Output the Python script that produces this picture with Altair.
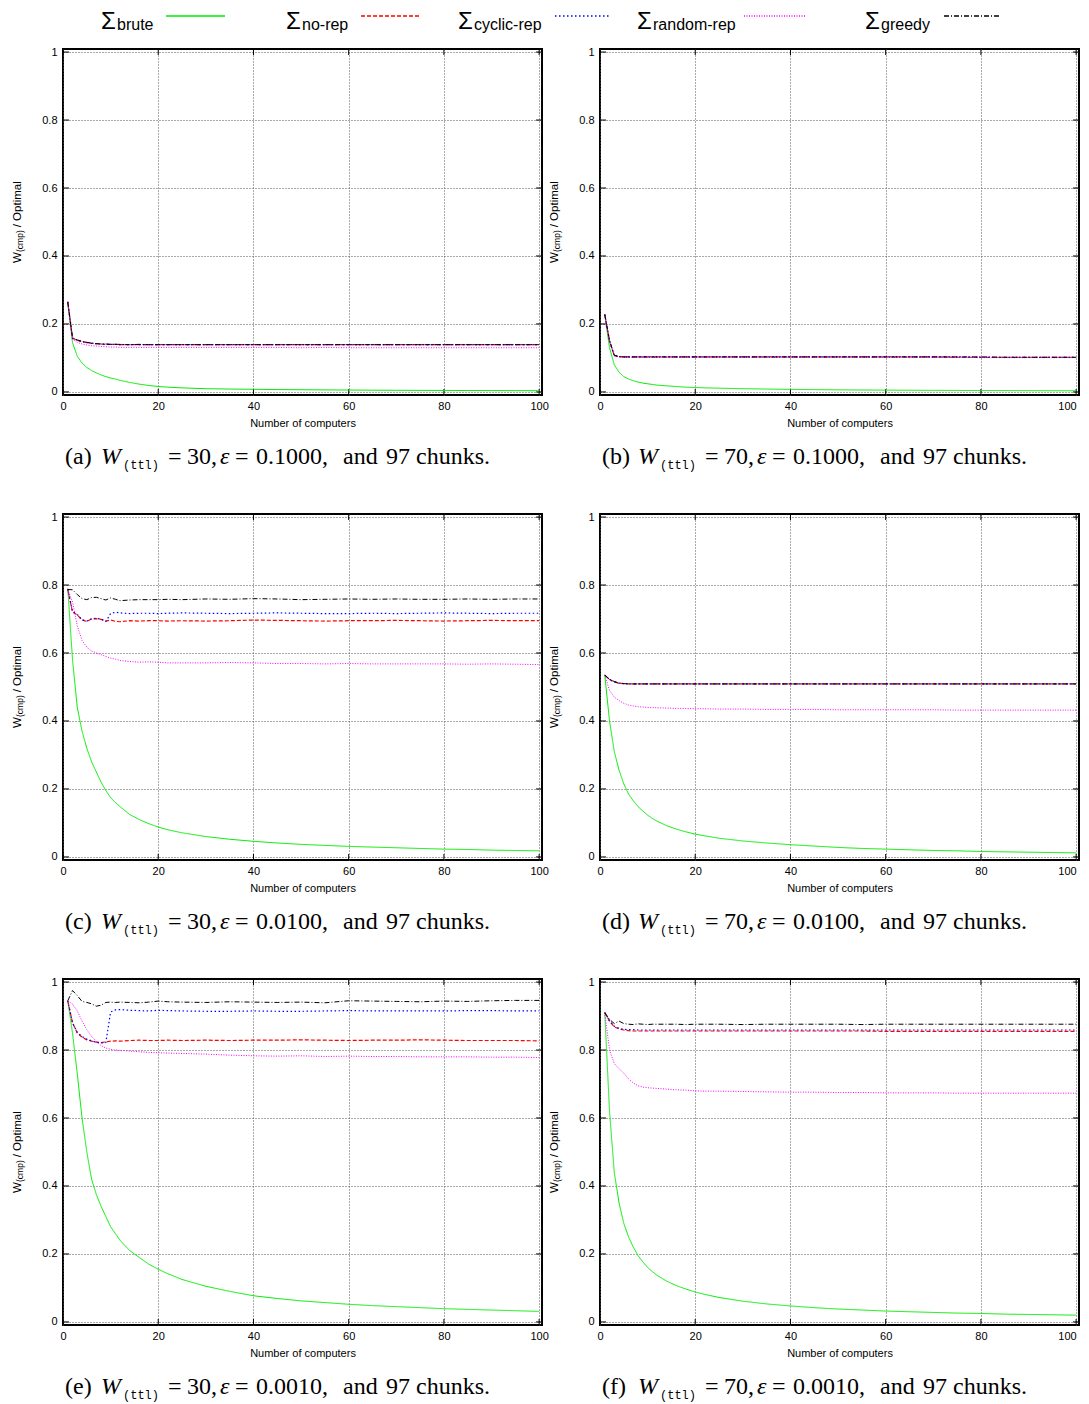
import altair as alt
import pandas as pd

# ---------------- data ----------------
X_POINTS = [1, 2, 3, 4, 5, 6, 7, 8, 9, 10, 11, 12, 14, 16, 18, 20, 22, 25, 30, 35,
            40, 45, 50, 55, 60, 65, 70, 75, 80, 85, 90, 95, 100]

SERIES = ["brute", "no-rep", "cyclic-rep", "random-rep", "greedy"]

# (a) W=30, eps=0.1000
A_BRUTE = [.26, .145, .105, .085, .072, .063, .056, .05, .045, .041, .038, .034,
           .028, .023, .019, .016, .014, .012, .0095, .0085,
           .0078, .007, .0065, .006, .0056, .0052, .0049, .0046, .0044, .0042, .004, .0038, .0036]
A_NOREP = [.265, .158, .152, .148, .145, .143, .142, .141, .140, .140, .140, .139,
           .139, .139, .139, .139, .139, .139, .139, .139,
           .139, .139, .139, .139, .139, .139, .139, .139, .139, .139, .139, .139, .139]
A_CYCLIC = [.265, .158, .152, .148, .145, .143, .142, .141, .140, .140, .140, .139,
            .139, .139, .139, .139, .139, .139, .139, .139,
            .139, .139, .139, .139, .139, .139, .139, .139, .139, .139, .139, .139, .139]
A_RANDOM = [.265, .155, .146, .141, .138, .136, .135, .134, .133, .132, .132, .131,
            .131, .131, .131, .131, .131, .131, .131, .131,
            .131, .131, .130, .131, .130, .130, .130, .130, .130, .130, .130, .130, .130]
A_GREEDY = [.265, .160, .153, .149, .146, .144, .142, .141, .141, .140, .140, .140,
            .139, .140, .139, .139, .139, .139, .139, .139,
            .139, .139, .139, .139, .139, .139, .139, .139, .139, .139, .139, .139, .139]

# (b) W=70, eps=0.1000
B_BRUTE = [.225, .13, .08, .058, .045, .038, .033, .029, .026, .024, .022, .02,
           .018, .016, .014, .013, .012, .011, .0095, .0085,
           .0075, .0068, .0062, .0057, .0053, .005, .0047, .0044, .0042, .004, .0038, .0036, .0035]
B_NOREP = [.228, .150, .107, .104, .103, .103, .103, .103, .103, .103, .103, .103,
           .103, .103, .103, .103, .103, .103, .103, .103,
           .103, .103, .103, .103, .103, .103, .103, .102, .102, .102, .102, .102, .102]
B_CYCLIC = [.228, .150, .107, .104, .103, .103, .103, .103, .103, .103, .103, .103,
            .103, .103, .103, .103, .103, .103, .103, .103,
            .103, .103, .103, .103, .103, .103, .103, .103, .102, .102, .102, .102, .102]
B_RANDOM = [.228, .148, .106, .103, .102, .102, .102, .102, .102, .102, .102, .102,
            .102, .102, .102, .102, .102, .102, .102, .102,
            .102, .102, .102, .102, .102, .102, .102, .102, .101, .101, .101, .101, .101]
B_GREEDY = [.228, .152, .108, .104, .103, .103, .103, .103, .103, .103, .103, .103,
            .103, .103, .103, .103, .103, .103, .103, .103,
            .103, .103, .103, .103, .103, .103, .103, .103, .103, .102, .102, .102, .102]

# (c) W=30, eps=0.0100
C_BRUTE = [.79, .58, .44, .37, .32, .28, .25, .22, .195, .175, .16, .148,
           .125, .11, .098, .088, .08, .071, .06, .052,
           .046, .041, .037, .034, .031, .029, .027, .025, .023, .022, .02, .019, .018]
C_NOREP = [.787, .72, .712, .697, .693, .70, .701, .699, .694, .697, .693, .692,
           .695, .694, .695, .695, .694, .695, .694, .695,
           .697, .696, .695, .694, .695, .695, .696, .695, .694, .695, .696, .695, .695]
C_CYCLIC = [.787, .722, .713, .698, .694, .701, .702, .70, .693, .716, .72, .718,
            .716, .717, .717, .716, .717, .718, .717, .716,
            .717, .718, .717, .716, .716, .717, .716, .717, .718, .717, .716, .717, .717]
C_RANDOM = [.787, .75, .68, .637, .617, .606, .60, .595, .59, .585, .582, .578,
            .575, .573, .574, .573, .571, .571, .571, .572,
            .571, .569, .569, .568, .569, .568, .568, .568, .568, .567, .568, .567, .566]
C_GREEDY = [.787, .786, .772, .76, .757, .763, .764, .76, .756, .762, .758, .754,
            .756, .757, .757, .757, .758, .757, .759, .758,
            .76, .759, .757, .758, .759, .758, .759, .758, .758, .759, .758, .759, .759]

# (d) W=70, eps=0.0100
D_BRUTE = [.535, .40, .31, .255, .215, .185, .165, .148, .135, .123, .113, .105,
           .092, .082, .074, .067, .062, .055, .047, .041,
           .036, .032, .028, .025, .023, .021, .019, .018, .016, .015, .014, .013, .012]
D_NOREP = [.535, .522, .515, .511, .510, .509, .509, .509, .509, .509, .509, .509,
           .509, .509, .509, .509, .509, .509, .509, .509,
           .509, .509, .509, .509, .509, .509, .509, .509, .509, .509, .509, .509, .509]
D_CYCLIC = [.535, .522, .515, .511, .510, .509, .509, .509, .509, .509, .509, .509,
            .509, .509, .509, .509, .509, .509, .509, .509,
            .509, .509, .509, .509, .509, .509, .509, .509, .509, .509, .509, .509, .509]
D_RANDOM = [.535, .49, .47, .46, .452, .447, .444, .442, .441, .44, .439, .439,
            .438, .437, .437, .436, .436, .435, .435, .434,
            .434, .434, .433, .433, .433, .433, .433, .432, .432, .432, .432, .432, .432]
D_GREEDY = [.535, .523, .516, .512, .510, .509, .509, .509, .509, .509, .509, .509,
            .509, .509, .509, .509, .509, .509, .509, .509,
            .509, .509, .509, .509, .509, .509, .509, .509, .509, .509, .509, .509, .509]

# (e) W=30, eps=0.0010
E_BRUTE = [.945, .85, .73, .60, .50, .42, .375, .34, .31, .28, .26, .24,
           .21, .19, .17, .155, .142, .125, .105, .09,
           .077, .069, .062, .057, .052, .048, .045, .042, .039, .037, .035, .033, .031]
E_NOREP = [.945, .88, .85, .838, .83, .826, .823, .822, .824, .826, .827, .826,
           .828, .829, .828, .828, .829, .828, .829, .828,
           .829, .829, .83, .829, .828, .829, .829, .83, .829, .828, .828, .828, .827]
E_CYCLIC = [.945, .88, .852, .84, .832, .827, .823, .821, .822, .912, .918, .919,
            .917, .916, .915, .917, .916, .915, .914, .914,
            .915, .914, .914, .915, .916, .915, .915, .915, .915, .916, .916, .915, .915]
E_RANDOM = [.945, .935, .915, .885, .86, .84, .825, .813, .806, .802, .80, .799,
            .797, .795, .793, .792, .791, .79, .788, .785,
            .783, .782, .783, .781, .782, .781, .781, .78, .78, .78, .779, .779, .778]
E_GREEDY = [.945, .975, .96, .943, .94, .936, .929, .932, .94, .941, .94, .941,
            .94, .939, .941, .944, .942, .941, .94, .942,
            .941, .94, .941, .939, .945, .944, .943, .942, .944, .943, .945, .946, .946]

# (f) W=70, eps=0.0010
F_BRUTE = [.91, .62, .44, .35, .29, .25, .22, .195, .177, .16, .148, .137,
           .12, .107, .097, .088, .081, .072, .061, .053,
           .047, .042, .038, .035, .032, .03, .028, .026, .025, .023, .022, .021, .02]
F_NOREP = [.91, .885, .868, .862, .859, .857, .856, .856, .856, .856, .856, .856,
           .856, .856, .856, .856, .856, .856, .856, .856,
           .856, .856, .856, .856, .855, .855, .855, .855, .855, .855, .855, .855, .855]
F_CYCLIC = [.91, .886, .87, .864, .861, .86, .86, .859, .859, .859, .859, .859,
            .859, .859, .859, .859, .859, .859, .859, .859,
            .859, .859, .859, .859, .859, .859, .859, .859, .859, .859, .859, .859, .859]
F_RANDOM = [.91, .80, .76, .745, .732, .715, .703, .695, .691, .689, .688, .687,
            .685, .683, .682, .68, .679, .679, .678, .677,
            .676, .676, .675, .675, .674, .674, .674, .673, .673, .673, .673, .673, .673]
F_GREEDY = [.91, .89, .878, .885, .878, .876, .875, .877, .876, .875, .876, .876,
            .876, .876, .875, .876, .876, .876, .875, .876,
            .876, .876, .876, .875, .876, .876, .876, .876, .876, .876, .876, .876, .876]

PANELS = [
    ("a", "30", "0.1000", [A_BRUTE, A_NOREP, A_CYCLIC, A_RANDOM, A_GREEDY]),
    ("b", "70", "0.1000", [B_BRUTE, B_NOREP, B_CYCLIC, B_RANDOM, B_GREEDY]),
    ("c", "30", "0.0100", [C_BRUTE, C_NOREP, C_CYCLIC, C_RANDOM, C_GREEDY]),
    ("d", "70", "0.0100", [D_BRUTE, D_NOREP, D_CYCLIC, D_RANDOM, D_GREEDY]),
    ("e", "30", "0.0010", [E_BRUTE, E_NOREP, E_CYCLIC, E_RANDOM, E_GREEDY]),
    ("f", "70", "0.0010", [F_BRUTE, F_NOREP, F_CYCLIC, F_RANDOM, F_GREEDY]),
]

X_TICKS = [0, 20, 40, 60, 80, 100]
Y_TICKS = [0, 0.2, 0.4, 0.6, 0.8, 1]

# ---------------- styling ----------------
W, H = 479, 346
COLORS = ["#00ee00", "#ff0000", "#0000ff", "#ff00ff", "#000000"]
DASHES = [[1, 0], [4, 2], [1.5, 2.5], [1, 1.5], [5, 2, 1, 2]]
WIDTHS = [1, 1.2, 1.2, 1, 1]
SANS = "Liberation Sans"
SERIF = "Liberation Serif"
MONO = "Liberation Mono"
GRID = "#555555"

XS = alt.Scale(domain=[0, 100.6], nice=False, zero=False)
YS = alt.Scale(domain=[-0.009, 1.009], nice=False, zero=False)


def x_axis(right_col):
    kw = {}
    if right_col:
        kw["labelAlign"] = {"condition": {"test": "datum.value == 100", "value": "right"},
                            "value": "center"}
    return alt.Axis(values=X_TICKS, grid=True, gridDash=[1, 2], gridColor=GRID, gridWidth=1,
                    ticks=False, tickSize=0, domain=False, labelFont=SANS, labelFontSize=11,
                    labelColor="black", labelPadding=5, labelFlush=False,
                    title="Number of computers", titleFont=SANS, titleFontSize=11,
                    titleFontWeight="normal", titleColor="black", titlePadding=6, **kw)


Y_AXIS = alt.Axis(values=Y_TICKS, grid=True, gridDash=[1, 2], gridColor=GRID, gridWidth=1,
                  ticks=False, tickSize=0, domain=False, labelFont=SANS, labelFontSize=11,
                  labelColor="black", labelPadding=6, labelFlush=False,
                  labelExpr="datum.value == 0 ? '0' : (datum.value == 1 ? '1' : format(datum.value, '.1f'))",
                  title=None)

ONE = pd.DataFrame({"k": [0]})


def txt(s, x, y, size, font=SANS, style="normal", angle=0, align="left"):
    return alt.Chart(ONE).mark_text(
        text=s, font=font, fontSize=size, fontStyle=style, angle=angle,
        align=align, baseline="alphabetic", color="black"
    ).encode(x=alt.value(x), y=alt.value(y))


def panel(letter, wttl, eps, series_vals, right_col=False, legend=False):
    XA = x_axis(right_col)
    layers = []
    tx = pd.DataFrame({"t": X_TICKS})
    ty = pd.DataFrame({"t": Y_TICKS})
    # inward ticks on all four sides
    layers.append(alt.Chart(ty).mark_rule(color="black", strokeWidth=1).encode(
        y=alt.Y("t:Q", scale=YS, axis=Y_AXIS), x=alt.value(0), x2=alt.value(6)))
    layers.append(alt.Chart(ty).mark_rule(color="black", strokeWidth=1).encode(
        y=alt.Y("t:Q", scale=YS, axis=Y_AXIS), x=alt.value(W - 6), x2=alt.value(W)))
    layers.append(alt.Chart(tx).mark_rule(color="black", strokeWidth=1).encode(
        x=alt.X("t:Q", scale=XS, axis=XA), y=alt.value(H), y2=alt.value(H - 6)))
    layers.append(alt.Chart(tx).mark_rule(color="black", strokeWidth=1).encode(
        x=alt.X("t:Q", scale=XS, axis=XA), y=alt.value(0), y2=alt.value(6)))
    # data lines
    for name, vals, col, dash, sw in zip(SERIES, series_vals, COLORS, DASHES, WIDTHS):
        df = pd.DataFrame({"n": X_POINTS, "v": vals})
        layers.append(alt.Chart(df).mark_line(color=col, strokeDash=dash, strokeWidth=sw).encode(
            x=alt.X("n:Q", scale=XS, axis=XA),
            y=alt.Y("v:Q", scale=YS, axis=Y_AXIS)))
    # y axis title: W_(cmp) / Optimal
    layers.append(txt("W", -42.5, 214, 11.5, angle=270))
    layers.append(txt("(cmp)", -40, 203, 8.5, angle=270))
    layers.append(txt("/ Optimal", -42.5, 178.3, 11.5, angle=270))
    # caption
    cy = 415
    fs = 24
    layers.append(txt("(" + letter + ")", 2, cy, fs, font=SERIF))
    layers.append(txt("W", 38, cy, fs, font=SERIF, style="italic"))
    layers.append(txt("(ttl)", 60, cy + 4.5, 12, font=MONO))
    layers.append(txt("=", 105, cy, fs, font=SERIF))
    layers.append(txt(wttl + ",", 124, cy, fs, font=SERIF))
    layers.append(txt("ε", 157, cy, fs, font=SERIF, style="italic"))
    layers.append(txt("=", 172, cy, fs, font=SERIF))
    layers.append(txt(eps + ",", 193, cy, fs, font=SERIF))
    layers.append(txt("and", 280, cy, fs, font=SERIF))
    layers.append(txt("97", 323, cy, fs, font=SERIF))
    layers.append(txt("chunks.", 353, cy, fs, font=SERIF))
    if legend:
        sig_x = [38, 223, 395, 574, 802]
        line_x = [(103, 162), (298, 356), (492, 547), (681, 742), (881, 938)]
        for name, sx, (l0, l1), col, dash, sw in zip(SERIES, sig_x, line_x, COLORS, DASHES, WIDTHS):
            layers.append(txt("Σ", sx, -20, 24))
            layers.append(txt(name, sx + 16, -19, 16))
            layers.append(alt.Chart(ONE).mark_rule(color=col, strokeDash=dash, strokeWidth=sw + 0.3).encode(
                x=alt.value(l0), x2=alt.value(l1), y=alt.value(-33)))
    return alt.layer(*layers).properties(width=W, height=H)


panels = [panel(l, w, e, s, right_col=(i % 2 == 1), legend=(l == "a"))
          for i, (l, w, e, s) in enumerate(PANELS)]

chart = alt.concat(
    *panels, columns=2, spacing={"row": 119, "column": 58}, bounds="flush"
).properties(
    padding={"left": 2, "top": 1, "right": 0, "bottom": 0},
    background="white",
).configure_view(stroke="black", strokeWidth=2)

chart.save("out.html", embed_options={"renderer": "svg", "actions": False})
